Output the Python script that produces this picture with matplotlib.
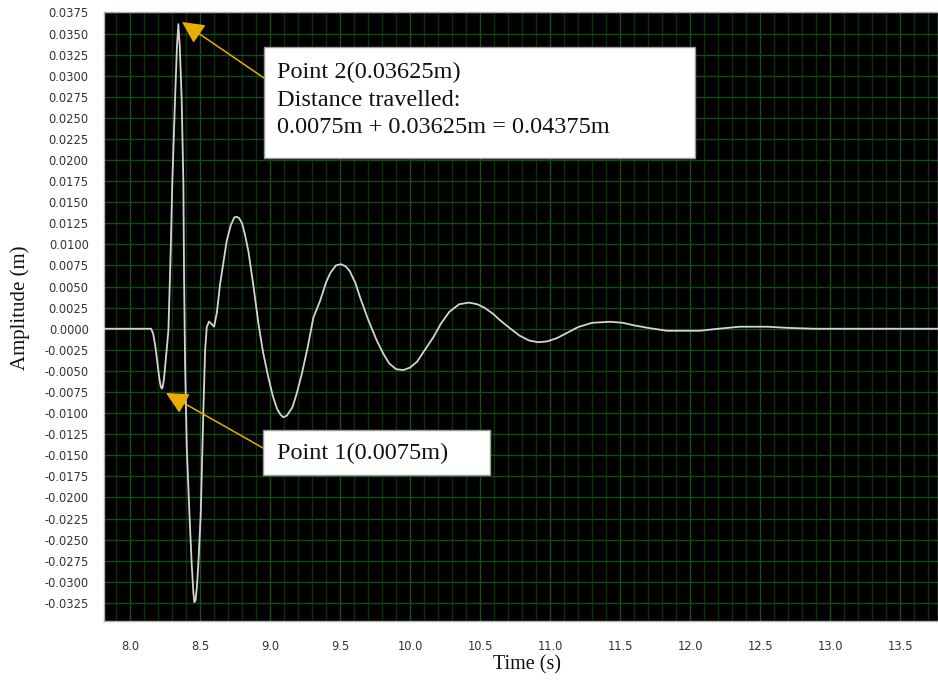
import matplotlib
matplotlib.use("Agg")
import matplotlib.pyplot as plt
import numpy as np
from matplotlib.patches import Rectangle

# ---- data ----
time_s = [7.814, 8.0, 8.10, 8.150, 8.165, 8.18, 8.195, 8.21, 8.219, 8.226, 8.233, 8.242,
          8.25, 8.262, 8.274, 8.291, 8.302, 8.321, 8.335, 8.345, 8.355, 8.369, 8.381,
          8.386, 8.393, 8.405, 8.424, 8.44, 8.452, 8.459, 8.468, 8.478, 8.488, 8.505,
          8.524, 8.536, 8.548, 8.564, 8.58, 8.60, 8.62, 8.643, 8.67, 8.69, 8.72, 8.745,
          8.762, 8.78, 8.80, 8.82, 8.845, 8.88, 8.917, 8.95, 8.988, 9.02, 9.05, 9.075,
          9.095, 9.12, 9.16, 9.19, 9.226, 9.27, 9.309, 9.357, 9.40, 9.43, 9.47, 9.505,
          9.54, 9.57, 9.61, 9.643, 9.70, 9.762, 9.81, 9.85, 9.90, 9.952, 10.00, 10.05,
          10.11, 10.166, 10.22, 10.28, 10.35, 10.42, 10.48, 10.53, 10.59, 10.643, 10.71,
          10.78, 10.85, 10.916, 10.98, 11.05, 11.12, 11.2, 11.3, 11.43, 11.52, 11.6,
          11.7, 11.833, 11.95, 12.07, 12.2, 12.357, 12.45, 12.55, 12.7, 12.88, 13.2,
          13.5, 13.77]
amplitude_m = [0.0, 0.0, 0.0, 0.0, -0.0006, -0.0020, -0.0040, -0.0060, -0.0068, -0.0071,
               -0.0069, -0.0060, -0.0046, -0.0024, -0.0002, 0.0096, 0.0175, 0.0270,
               0.0335, 0.0361, 0.0335, 0.0270, 0.0171, 0.0057, -0.0041, -0.0140, -0.0219,
               -0.0278, -0.0312, -0.0324, -0.0322, -0.0305, -0.0278, -0.0219, -0.0095,
               -0.0026, 0.0002, 0.00086, 0.0006, 0.00024, 0.0019, 0.0053, 0.0082, 0.0104,
               0.0123, 0.0132, 0.01328, 0.0131, 0.0125, 0.0112, 0.0092, 0.0052, 0.0006,
               -0.0028, -0.0058, -0.0080, -0.0095, -0.0102, -0.0105, -0.0103, -0.0093,
               -0.0077, -0.0054, -0.0021, 0.0013, 0.0033, 0.0055, 0.0066, 0.0075, 0.00765,
               0.0074, 0.0068, 0.0054, 0.0037, 0.0011, -0.0014, -0.0030, -0.0041, -0.0048,
               -0.0049, -0.0046, -0.0039, -0.0024, -0.0010, 0.0006, 0.0020, 0.0029, 0.0031,
               0.0029, 0.0025, 0.0018, 0.0010, 0.0001, -0.0008, -0.0014, -0.0016, -0.0015,
               -0.0011, -0.0005, 0.0002, 0.0007, 0.00083, 0.0007, 0.0004, 0.0001, -0.00024,
               -0.00024, -0.00024, 0.0, 0.00024, 0.00024, 0.00024, 0.0001, 0.0, 0.0, 0.0,
               0.0]

x_ticks = [8.0, 8.5, 9.0, 9.5, 10.0, 10.5, 11.0, 11.5, 12.0, 12.5, 13.0, 13.5]
y_ticks = [0.0375, 0.0350, 0.0325, 0.0300, 0.0275, 0.0250, 0.0225, 0.0200, 0.0175,
           0.0150, 0.0125, 0.0100, 0.0075, 0.0050, 0.0025, 0.0000, -0.0025, -0.0050,
           -0.0075, -0.0100, -0.0125, -0.0150, -0.0175, -0.0200, -0.0225, -0.0250,
           -0.0275, -0.0300, -0.0325]

note_top = "Point 2(0.03625m)\nDistance travelled:\n0.0075m + 0.03625m = 0.04375m"
note_bottom = "Point 1(0.0075m)"

W, H = 938, 681
fig = plt.figure(figsize=(W / 100, H / 100), dpi=100)
fig.patch.set_facecolor("white")

def fx(px):
    return px / W

def fy(py):
    return 1 - py / H

ax = fig.add_axes([fx(104), fy(621), fx(938) - fx(104), fy(12) - fy(621)])
ax.set_facecolor("black")
ax.set_xlim(7.814, 13.77)
ax.set_ylim(-0.03465, 0.03755)

# grid
for xv in np.arange(7.9, 13.8, 0.1):
    major = abs(xv * 2 - round(xv * 2)) < 1e-6
    ax.axvline(xv, color="#1a4f1a" if major else "#0c2f0c",
               lw=1.0, zorder=1)
for yv in y_ticks:
    ax.axhline(yv, color="#144a14", lw=1.0, zorder=1)

ax.plot(time_s, amplitude_m, color="#d4d4d4", lw=1.3, zorder=3,
        solid_joinstyle="round")

ax.set_xticks(x_ticks)
ax.set_xticklabels([f"{v:.1f}" for v in x_ticks])
ax.set_yticks(y_ticks)
ax.set_yticklabels([f"{v:.4f}" for v in y_ticks])
ax.tick_params(axis="both", length=0, labelsize=8.3, colors="#333333")
ax.tick_params(axis="y", pad=11)
ax.tick_params(axis="x", pad=14)
for s in ax.spines.values():
    s.set_color("#b0b0b0")
    s.set_linewidth(1.0)

serif = ["Liberation Serif", "DejaVu Serif"]
fig.text(fx(20), fy(308), "Amplitude (m)", rotation=90, ha="center", va="center",
         fontsize=15, family=serif, color="#111111")
fig.text(fx(527), fy(665), "Time (s)", ha="center", va="center",
         fontsize=14.5, family=serif, color="#111111")

# annotation boxes
fig.add_artist(Rectangle((fx(264), fy(158)), fx(695) - fx(264), fy(47) - fy(158),
                         transform=fig.transFigure, fc="white", ec="#9a9a9a",
                         lw=1.0, zorder=5))
fig.text(fx(277), fy(100), note_top, ha="left", va="center", fontsize=17.5,
         family=serif, linespacing=1.42, color="#111111", zorder=6)
fig.add_artist(Rectangle((fx(263), fy(475)), fx(490) - fx(263), fy(430) - fy(475),
                         transform=fig.transFigure, fc="white", ec="#9a9a9a",
                         lw=1.0, zorder=5))
fig.text(fx(277), fy(453), note_bottom, ha="left", va="center", fontsize=17.5,
         family=serif, color="#111111", zorder=6)

arrow_kw = dict(arrowstyle="-|>,head_length=0.9,head_width=0.45",
                color="#e8ad00", lw=1.1, shrinkA=0, shrinkB=0,
                mutation_scale=15)
ax.annotate("", xy=(fx(182), fy(22)), xycoords="figure fraction",
            xytext=(fx(264), fy(78)), textcoords="figure fraction",
            arrowprops=arrow_kw, zorder=7)
ax.annotate("", xy=(fx(166), fy(393)), xycoords="figure fraction",
            xytext=(fx(263), fy(448)), textcoords="figure fraction",
            arrowprops=arrow_kw, zorder=7)

fig.savefig("out.png", dpi=100, facecolor="white")
